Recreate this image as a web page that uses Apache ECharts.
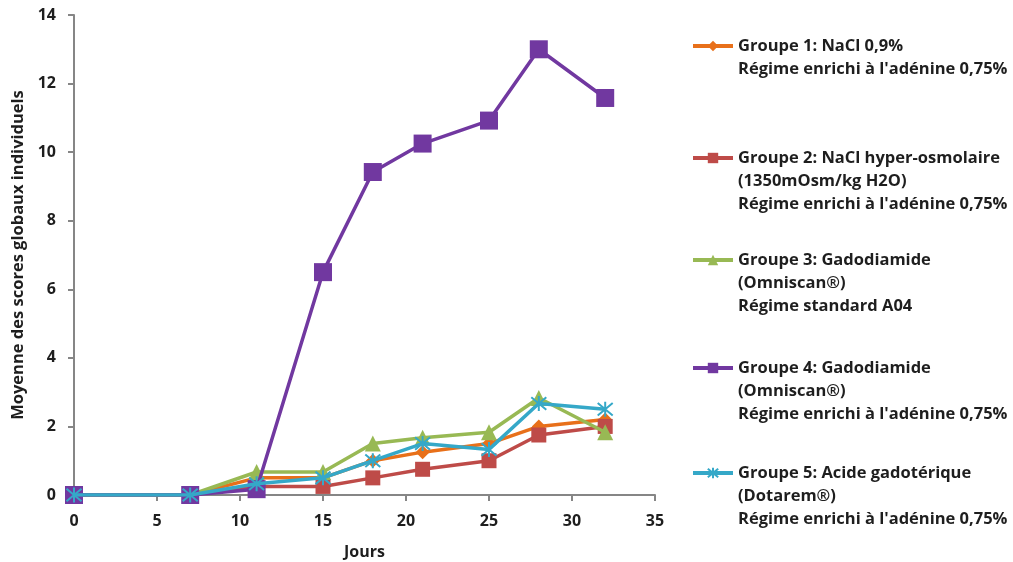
<!DOCTYPE html>
<html><head><meta charset="utf-8">
<script src="https://cdn.jsdelivr.net/npm/echarts@6/dist/echarts.min.js"></script>
<style>html,body{margin:0;padding:0;background:#fff}#c{width:1013px;height:562px}</style>
</head><body><div id="c"></div>
<script>
const days = [0, 7, 11, 15, 18, 21, 25, 28, 32];
const g1 = [0, 0, 0.5, 0.5, 1.0, 1.25, 1.5, 2.0, 2.2];
const g2 = [0, 0, 0.25, 0.25, 0.5, 0.75, 1.0, 1.75, 2.0];
const g3 = [0, 0, 0.67, 0.67, 1.5, 1.67, 1.83, 2.83, 1.83];
const g4 = [0, 0, 0.17, 6.5, 9.42, 10.25, 10.92, 13.0, 11.58];
const g5 = [0, 0, 0.33, 0.5, 1.0, 1.5, 1.33, 2.67, 2.5];
const names = [
  "Groupe 1: NaCl 0,9%\nRégime enrichi à l'adénine 0,75%",
  "Groupe 2: NaCl hyper-osmolaire\n(1350mOsm/kg H2O)\nRégime enrichi à l'adénine 0,75%",
  "Groupe 3: Gadodiamide\n(Omniscan®)\nRégime standard A04",
  "Groupe 4: Gadodiamide\n(Omniscan®)\nRégime enrichi à l'adénine 0,75%",
  "Groupe 5: Acide gadotérique\n(Dotarem®)\nRégime enrichi à l'adénine 0,75%"
];
const colors = ['#E8701A', '#BE4B48', '#98B954', '#7138A0', '#35A8C8'];
const symbols = ['diamond', 'rect', 'triangle', 'rect', 'path://M0,0 L10,10 M10,0 L0,10 M5,-1 L5,11'];
const sizes = [14, 15, 16, 18, 15];
const values = [g1, g2, g3, g4, g5];
const iconY = [46, 158, 260, 368, 473];
const LH = 23;
const font = 'Open Sans';
const txt = '#1e1e1e';

const series = values.map((v, i) => ({
  name: names[i],
  type: 'line',
  data: days.map((d, k) => [d, v[k]]),
  symbol: symbols[i],
  symbolSize: sizes[i],
  lineStyle: { width: 3.5, color: colors[i] },
  itemStyle: i === 4 ? { color: 'transparent', borderColor: colors[i], borderWidth: 2 } : { color: colors[i] },
  z: 2 + i
}));

const legends = names.map((n, i) => {
  const lines = n.split('\n').length;
  return {
    data: [n],
    left: 691,
    top: iconY[i] - (2 * lines - 1) * LH / 2,
    padding: 0,
    itemWidth: 40,
    itemHeight: 13,
    lineStyle: { width: 4 },
    formatter: name => '\n'.repeat(lines - 1) + name,
    textStyle: { fontFamily: font, fontWeight: 'bold', fontSize: 16.5, color: txt, lineHeight: LH }
  };
});

const chart = echarts.init(document.getElementById('c'));
chart.setOption({
  animation: false,
  color: colors,
  legend: legends,
  grid: { left: 74, top: 15, width: 581, height: 480, containLabel: false, outerBoundsMode: 'none' },
  xAxis: {
    type: 'value', min: 0, max: 35, interval: 5,
    name: 'Jours', nameLocation: 'middle', nameGap: 49,
    nameTextStyle: { fontFamily: font, fontWeight: 'bold', fontSize: 16, color: txt },
    axisLine: { lineStyle: { color: '#868686', width: 2 } },
    axisTick: { show: true, length: 6, lineStyle: { color: '#868686', width: 2 } },
    axisLabel: { fontFamily: font, fontWeight: 'bold', fontSize: 16, color: txt, margin: 18 },
    splitLine: { show: false }
  },
  yAxis: {
    type: 'value', min: 0, max: 14, interval: 2,
    name: 'Moyenne des scores globaux individuels', nameLocation: 'middle', nameGap: 46,
    nameTextStyle: { fontFamily: font, fontWeight: 'bold', fontSize: 16.5, color: txt },
    axisLine: { show: true, lineStyle: { color: '#868686', width: 2 } },
    axisTick: { show: true, length: 6, lineStyle: { color: '#868686', width: 2 } },
    axisLabel: { fontFamily: font, fontWeight: 'bold', fontSize: 16, color: txt, margin: 18 },
    splitLine: { show: false }
  },
  series: series
});
</script></body></html>
